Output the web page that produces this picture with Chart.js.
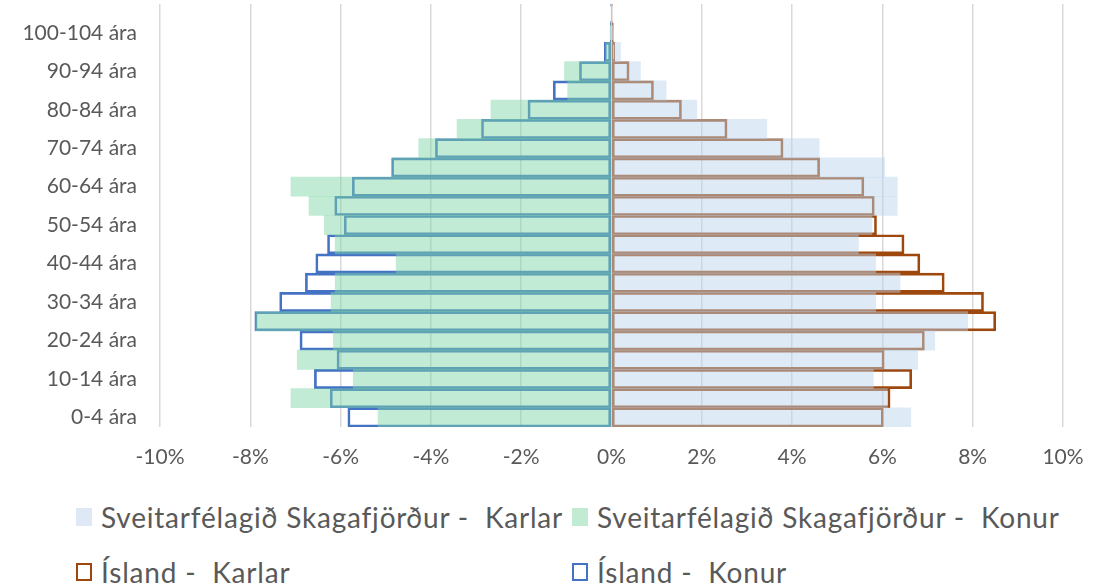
<!DOCTYPE html>
<html>
<head>
<meta charset="utf-8">
<script src="https://cdn.jsdelivr.net/npm/chart.js@4/dist/chart.umd.min.js"></script>
<style>
  body { margin: 0; background: #fff; font-family: Lato, sans-serif; }
  #wrap { position: relative; width: 1109px; height: 587px; }
  #chartBox { position: absolute; left: 0; top: 0; width: 1109px; height: 480px; }
  #legend {
    position: absolute; left: 76px; top: 501px;
    display: grid; grid-template-columns: 496px 490px; row-gap: 23px;
    color: #595959; font-size: 28px; letter-spacing: 0.8px; white-space: pre;
  }
  .item { display: flex; align-items: center; height: 32px; }
  .box { width: 16px; height: 18px; box-sizing: border-box; margin-right: 9px; }
</style>
</head>
<body>
<div id="wrap">
  <div id="chartBox"><canvas id="pyramid"></canvas></div>
  <div id="legend"></div>
</div>
<script>
// age groups, bottom to top
const ageGroups = [
  "0-4 ára", "5-9 ára", "10-14 ára", "15-19 ára", "20-24 ára", "25-29 ára",
  "30-34 ára", "35-39 ára", "40-44 ára", "45-49 ára", "50-54 ára", "55-59 ára",
  "60-64 ára", "65-69 ára", "70-74 ára", "75-79 ára", "80-84 ára", "85-89 ára",
  "90-94 ára", "95-99 ára", "100-104 ára", "105+ ára"
];

// share of population (%), women as negative values
const skagKarlar = [6.63, 6.11, 5.80, 6.78, 7.16, 7.89, 5.85, 6.39, 5.85, 5.47, 5.77, 6.33,
  6.33, 6.05, 4.60, 3.44, 1.89, 1.21, 0.64, 0.20, 0.02, 0];
const skagKonur = [-5.17, -7.10, -5.72, -6.96, -6.16, -7.88, -6.21, -6.12, -4.77, -6.12, -6.36, -6.70,
  -7.10, -4.85, -4.27, -3.42, -2.67, -0.97, -1.04, -0.13, -0.02, 0];
const islandKarlar = [6.02, 6.17, 6.65, 6.04, 6.93, 8.51, 8.24, 7.37, 6.83, 6.48, 5.87, 5.82,
  5.59, 4.61, 3.80, 2.56, 1.55, 0.93, 0.39, 0.07, 0.04, 0.01];
const islandKonur = [-5.84, -6.23, -6.58, -6.08, -6.90, -7.90, -7.35, -6.78, -6.55, -6.29, -5.92, -6.13,
  -5.74, -4.87, -3.90, -2.88, -1.85, -1.29, -0.71, -0.16, -0.03, -0.02];

const xTicks = [-10, -8, -6, -4, -2, 0, 2, 4, 6, 8, 10];

const textColor = "#595959";
const gridColor = "#d9d9d9";

const ctx = document.getElementById("pyramid");

const pyramidChart = new Chart(ctx, {
  type: "bar",
  data: {
    labels: ageGroups,
    datasets: [
      {
        label: "Sveitarfélagið Skagafjörður -  Karlar",
        data: skagKarlar,
        backgroundColor: "rgba(186, 211, 236, 0.48)",
        legendColor: "#dee9f5",
        borderWidth: 0,
        grouped: false,
        order: 0,
      },
      {
        label: "Sveitarfélagið Skagafjörður -  Konur",
        data: skagKonur,
        backgroundColor: "rgba(125, 213, 165, 0.48)",
        legendColor: "#c2ebd4",
        borderWidth: 0,
        grouped: false,
        order: 0,
      },
      {
        label: "Ísland -  Karlar",
        data: islandKarlar,
        backgroundColor: "rgba(0,0,0,0)",
        borderColor: "#9e480e",
        borderWidth: 2,
        borderSkipped: false,
        grouped: false,
        order: 1,
      },
      {
        label: "Ísland -  Konur",
        data: islandKonur,
        backgroundColor: "rgba(0,0,0,0)",
        borderColor: "#4472c4",
        borderWidth: 2,
        borderSkipped: false,
        grouped: false,
        order: 1,
      },
    ],
  },
  options: {
    indexAxis: "y",
    responsive: true,
    maintainAspectRatio: false,
    animation: false,
    barPercentage: 1,
    categoryPercentage: 1,
    layout: {
      padding: { top: 4, right: 46, bottom: 0, left: 0 },
    },
    scales: {
      x: {
        min: -10,
        max: 10,
        afterBuildTicks: (scale) => {
          scale.ticks = xTicks.map((v) => ({ value: v }));
        },
        afterFit: (scale) => {
          scale.height = 53;
        },
        grid: {
          color: gridColor,
          lineWidth: 1.5,
          drawTicks: false,
        },
        border: { display: false },
        ticks: {
          color: textColor,
          font: { family: "Lato", size: 21 },
          padding: 18,
          callback: (v) => v + "%",
        },
      },
      y: {
        reverse: true,
        afterFit: (scale) => {
          scale.width = 160;
          // no extra room above the top row
          scale.paddingTop = 0;
          scale.paddingBottom = 0;
        },
        grid: { display: false },
        border: { display: false },
        ticks: {
          color: textColor,
          autoSkip: false,
          font: { family: "Lato", size: 21 },
          padding: 15,
          callback: function (value, index) {
            return index % 2 === 0 ? this.getLabelForValue(value) : "";
          },
        },
      },
    },
    plugins: {
      legend: { display: false },
      tooltip: { enabled: false },
    },
  },
});

// legend laid out in two columns like the original
const legendEl = document.getElementById("legend");
pyramidChart.data.datasets.forEach((ds) => {
  const item = document.createElement("div");
  item.className = "item";
  const box = document.createElement("span");
  box.className = "box";
  if (ds.borderWidth > 0) {
    box.style.border = "2px solid " + ds.borderColor;
  } else {
    box.style.background = ds.legendColor;
  }
  const txt = document.createElement("span");
  txt.textContent = ds.label;
  item.appendChild(box);
  item.appendChild(txt);
  legendEl.appendChild(item);
});
</script>
</body>
</html>
